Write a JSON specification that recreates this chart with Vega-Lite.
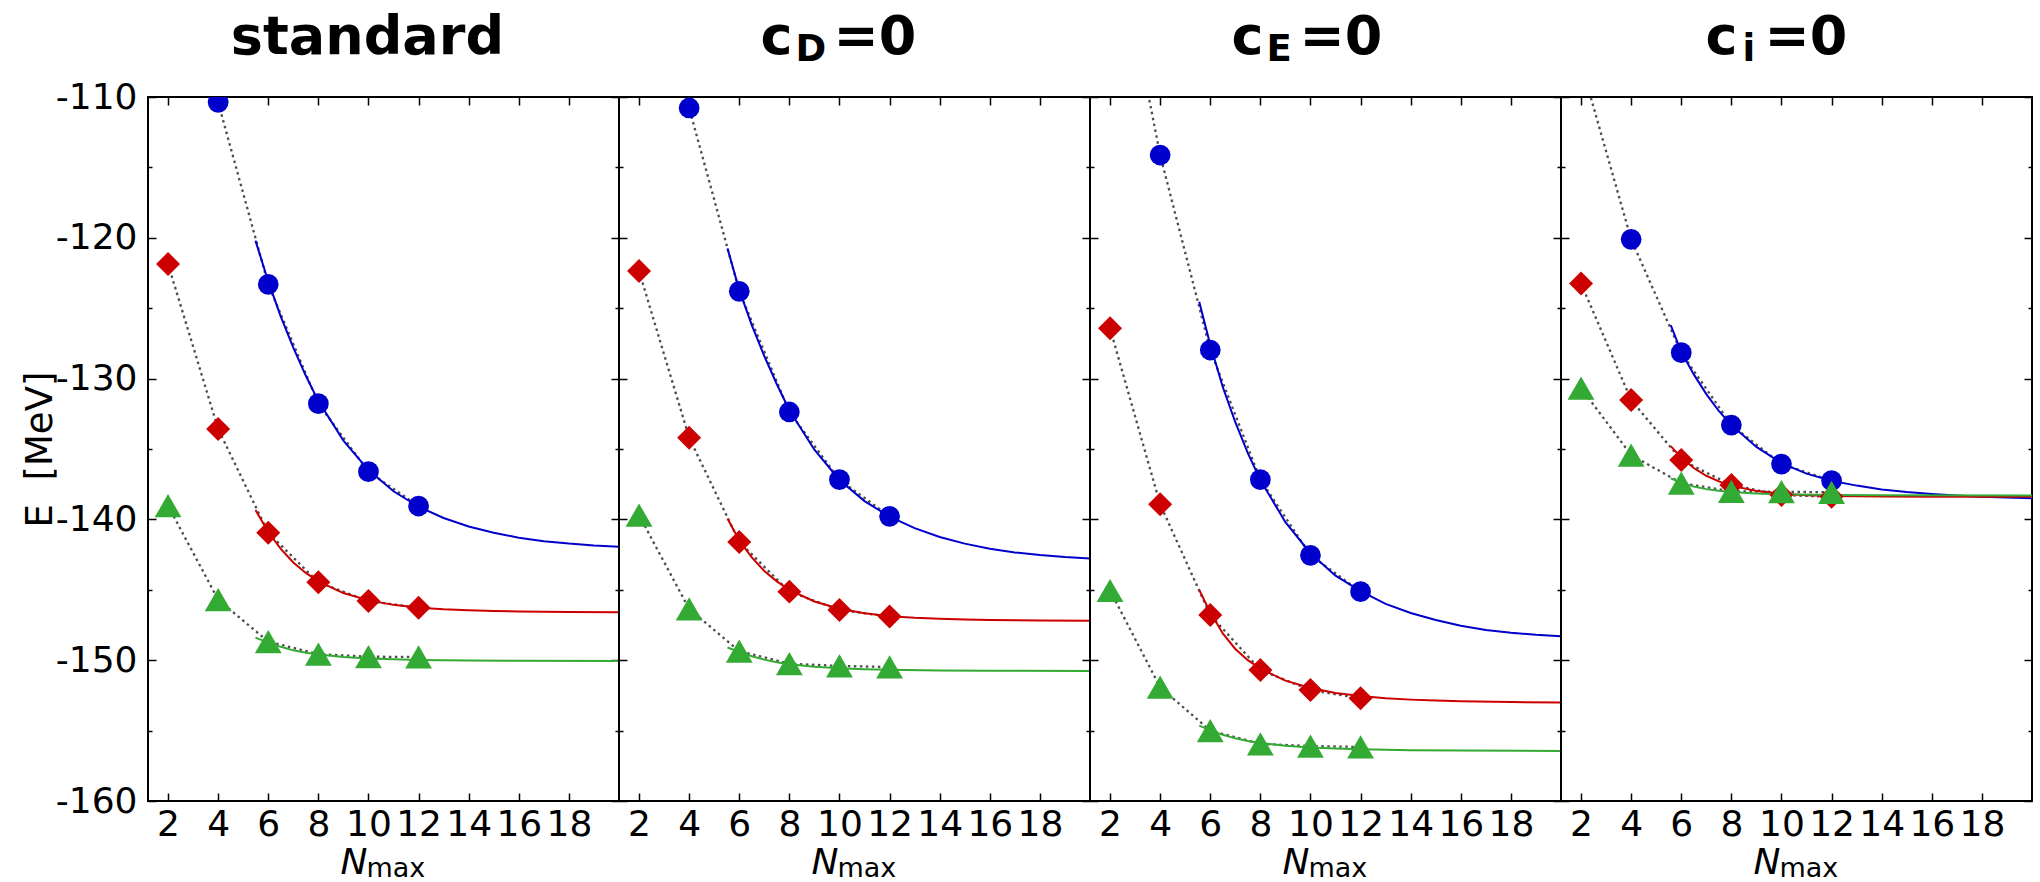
{
  "$schema": "https://vega.github.io/schema/vega-lite/v6.json",
  "background": "white",
  "padding": {"left": 20, "top": 10, "right": 5, "bottom": 5},
  "spacing": 0,
  "bounds": "flush",
  "config": {
    "font": "DejaVu Sans",
    "view": {"stroke": "black", "strokeWidth": 2},
    "axis": {"labelFont": "DejaVu Sans", "labelFontSize": 36, "labelColor": "black", "tickColor": "black", "tickWidth": 1.5, "domain": false, "grid": false, "labelOverlap": false, "labelFlush": false, "titleFont": "DejaVu Sans", "titleFontWeight": "normal", "titleColor": "black"}
  },
  "datasets": {
    "d": [
      {"p":"st","s":"b","k":"pt","n":2,"e":-92},{"p":"st","s":"b","k":"pt","n":4,"e":-110.38},{"p":"st","s":"b","k":"pt","n":6,"e":-123.31},{"p":"st","s":"b","k":"pt","n":8,"e":-131.78},{"p":"st","s":"b","k":"pt","n":10,"e":-136.61},{"p":"st","s":"b","k":"pt","n":12,"e":-139.05},
      {"p":"st","s":"r","k":"pt","n":2,"e":-121.86},{"p":"st","s":"r","k":"pt","n":4,"e":-133.58},{"p":"st","s":"r","k":"pt","n":6,"e":-140.95},{"p":"st","s":"r","k":"pt","n":8,"e":-144.47},{"p":"st","s":"r","k":"pt","n":10,"e":-145.8},{"p":"st","s":"r","k":"pt","n":12,"e":-146.27},
      {"p":"st","s":"g","k":"pt","n":2,"e":-139.03},{"p":"st","s":"g","k":"pt","n":4,"e":-145.7},{"p":"st","s":"g","k":"pt","n":6,"e":-148.68},{"p":"st","s":"g","k":"pt","n":8,"e":-149.57},{"p":"st","s":"g","k":"pt","n":10,"e":-149.75},{"p":"st","s":"g","k":"pt","n":12,"e":-149.77},
      {"p":"st","s":"b","k":"fit","n":5.49,"e":-120.2},{"p":"st","s":"b","k":"fit","n":6,"e":-123.1},{"p":"st","s":"b","k":"fit","n":6.5,"e":-125.6},{"p":"st","s":"b","k":"fit","n":7,"e":-127.8},{"p":"st","s":"b","k":"fit","n":7.5,"e":-129.8},{"p":"st","s":"b","k":"fit","n":8,"e":-131.6},{"p":"st","s":"b","k":"fit","n":9,"e":-134.4},{"p":"st","s":"b","k":"fit","n":10,"e":-136.5},{"p":"st","s":"b","k":"fit","n":11,"e":-138.0},{"p":"st","s":"b","k":"fit","n":12,"e":-139.1},{"p":"st","s":"b","k":"fit","n":13,"e":-139.9},{"p":"st","s":"b","k":"fit","n":14,"e":-140.5},{"p":"st","s":"b","k":"fit","n":15,"e":-140.95},{"p":"st","s":"b","k":"fit","n":16,"e":-141.3},{"p":"st","s":"b","k":"fit","n":17,"e":-141.55},{"p":"st","s":"b","k":"fit","n":18,"e":-141.72},{"p":"st","s":"b","k":"fit","n":19,"e":-141.85},{"p":"st","s":"b","k":"fit","n":20,"e":-141.94},
      {"p":"st","s":"r","k":"fit","n":5.49,"e":-139.33},{"p":"st","s":"r","k":"fit","n":6,"e":-140.9},{"p":"st","s":"r","k":"fit","n":6.5,"e":-142.1},{"p":"st","s":"r","k":"fit","n":7,"e":-143.06},{"p":"st","s":"r","k":"fit","n":7.5,"e":-143.8},{"p":"st","s":"r","k":"fit","n":8,"e":-144.4},{"p":"st","s":"r","k":"fit","n":9,"e":-145.23},{"p":"st","s":"r","k":"fit","n":10,"e":-145.75},{"p":"st","s":"r","k":"fit","n":11,"e":-146.07},{"p":"st","s":"r","k":"fit","n":12,"e":-146.27},{"p":"st","s":"r","k":"fit","n":13,"e":-146.39},{"p":"st","s":"r","k":"fit","n":14,"e":-146.46},{"p":"st","s":"r","k":"fit","n":15,"e":-146.51},{"p":"st","s":"r","k":"fit","n":16,"e":-146.54},{"p":"st","s":"r","k":"fit","n":18,"e":-146.58},{"p":"st","s":"r","k":"fit","n":20,"e":-146.6},
      {"p":"st","s":"g","k":"fit","n":5.49,"e":-148.4},{"p":"st","s":"g","k":"fit","n":6,"e":-148.75},{"p":"st","s":"g","k":"fit","n":6.5,"e":-149.05},{"p":"st","s":"g","k":"fit","n":7,"e":-149.3},{"p":"st","s":"g","k":"fit","n":7.5,"e":-149.47},{"p":"st","s":"g","k":"fit","n":8,"e":-149.6},{"p":"st","s":"g","k":"fit","n":9,"e":-149.78},{"p":"st","s":"g","k":"fit","n":10,"e":-149.88},{"p":"st","s":"g","k":"fit","n":11,"e":-149.94},{"p":"st","s":"g","k":"fit","n":12,"e":-149.98},{"p":"st","s":"g","k":"fit","n":14,"e":-150.02},{"p":"st","s":"g","k":"fit","n":16,"e":-150.04},{"p":"st","s":"g","k":"fit","n":20,"e":-150.05},

      {"p":"cD","s":"b","k":"pt","n":2,"e":-93},{"p":"cD","s":"b","k":"pt","n":4,"e":-110.78},{"p":"cD","s":"b","k":"pt","n":6,"e":-123.8},{"p":"cD","s":"b","k":"pt","n":8,"e":-132.37},{"p":"cD","s":"b","k":"pt","n":10,"e":-137.18},{"p":"cD","s":"b","k":"pt","n":12,"e":-139.78},
      {"p":"cD","s":"r","k":"pt","n":2,"e":-122.36},{"p":"cD","s":"r","k":"pt","n":4,"e":-134.2},{"p":"cD","s":"r","k":"pt","n":6,"e":-141.6},{"p":"cD","s":"r","k":"pt","n":8,"e":-145.13},{"p":"cD","s":"r","k":"pt","n":10,"e":-146.43},{"p":"cD","s":"r","k":"pt","n":12,"e":-146.9},
      {"p":"cD","s":"g","k":"pt","n":2,"e":-139.7},{"p":"cD","s":"g","k":"pt","n":4,"e":-146.36},{"p":"cD","s":"g","k":"pt","n":6,"e":-149.35},{"p":"cD","s":"g","k":"pt","n":8,"e":-150.25},{"p":"cD","s":"g","k":"pt","n":10,"e":-150.41},{"p":"cD","s":"g","k":"pt","n":12,"e":-150.48},
      {"p":"cD","s":"b","k":"fit","n":5.53,"e":-120.75},{"p":"cD","s":"b","k":"fit","n":6,"e":-123.7},{"p":"cD","s":"b","k":"fit","n":6.5,"e":-126.2},{"p":"cD","s":"b","k":"fit","n":7,"e":-128.4},{"p":"cD","s":"b","k":"fit","n":7.5,"e":-130.4},{"p":"cD","s":"b","k":"fit","n":8,"e":-132.25},{"p":"cD","s":"b","k":"fit","n":9,"e":-135.05},{"p":"cD","s":"b","k":"fit","n":10,"e":-137.2},{"p":"cD","s":"b","k":"fit","n":11,"e":-138.7},{"p":"cD","s":"b","k":"fit","n":12,"e":-139.8},{"p":"cD","s":"b","k":"fit","n":13,"e":-140.62},{"p":"cD","s":"b","k":"fit","n":14,"e":-141.25},{"p":"cD","s":"b","k":"fit","n":15,"e":-141.72},{"p":"cD","s":"b","k":"fit","n":16,"e":-142.08},{"p":"cD","s":"b","k":"fit","n":17,"e":-142.35},{"p":"cD","s":"b","k":"fit","n":18,"e":-142.53},{"p":"cD","s":"b","k":"fit","n":19,"e":-142.67},{"p":"cD","s":"b","k":"fit","n":20,"e":-142.77},
      {"p":"cD","s":"r","k":"fit","n":5.53,"e":-139.93},{"p":"cD","s":"r","k":"fit","n":6,"e":-141.5},{"p":"cD","s":"r","k":"fit","n":6.5,"e":-142.7},{"p":"cD","s":"r","k":"fit","n":7,"e":-143.66},{"p":"cD","s":"r","k":"fit","n":7.5,"e":-144.4},{"p":"cD","s":"r","k":"fit","n":8,"e":-145.0},{"p":"cD","s":"r","k":"fit","n":9,"e":-145.83},{"p":"cD","s":"r","k":"fit","n":10,"e":-146.35},{"p":"cD","s":"r","k":"fit","n":11,"e":-146.67},{"p":"cD","s":"r","k":"fit","n":12,"e":-146.87},{"p":"cD","s":"r","k":"fit","n":13,"e":-146.99},{"p":"cD","s":"r","k":"fit","n":14,"e":-147.06},{"p":"cD","s":"r","k":"fit","n":15,"e":-147.11},{"p":"cD","s":"r","k":"fit","n":16,"e":-147.14},{"p":"cD","s":"r","k":"fit","n":18,"e":-147.18},{"p":"cD","s":"r","k":"fit","n":20,"e":-147.2},
      {"p":"cD","s":"g","k":"fit","n":5.53,"e":-149.1},{"p":"cD","s":"g","k":"fit","n":6,"e":-149.42},{"p":"cD","s":"g","k":"fit","n":6.5,"e":-149.72},{"p":"cD","s":"g","k":"fit","n":7,"e":-149.96},{"p":"cD","s":"g","k":"fit","n":7.5,"e":-150.14},{"p":"cD","s":"g","k":"fit","n":8,"e":-150.28},{"p":"cD","s":"g","k":"fit","n":9,"e":-150.46},{"p":"cD","s":"g","k":"fit","n":10,"e":-150.57},{"p":"cD","s":"g","k":"fit","n":11,"e":-150.64},{"p":"cD","s":"g","k":"fit","n":12,"e":-150.68},{"p":"cD","s":"g","k":"fit","n":14,"e":-150.73},{"p":"cD","s":"g","k":"fit","n":16,"e":-150.75},{"p":"cD","s":"g","k":"fit","n":20,"e":-150.77},

      {"p":"cE","s":"b","k":"pt","n":2,"e":-96},{"p":"cE","s":"b","k":"pt","n":4,"e":-114.12},{"p":"cE","s":"b","k":"pt","n":6,"e":-127.97},{"p":"cE","s":"b","k":"pt","n":8,"e":-137.18},{"p":"cE","s":"b","k":"pt","n":10,"e":-142.55},{"p":"cE","s":"b","k":"pt","n":12,"e":-145.13},
      {"p":"cE","s":"r","k":"pt","n":2,"e":-126.43},{"p":"cE","s":"r","k":"pt","n":4,"e":-138.93},{"p":"cE","s":"r","k":"pt","n":6,"e":-146.79},{"p":"cE","s":"r","k":"pt","n":8,"e":-150.7},{"p":"cE","s":"r","k":"pt","n":10,"e":-152.12},{"p":"cE","s":"r","k":"pt","n":12,"e":-152.71},
      {"p":"cE","s":"g","k":"pt","n":2,"e":-145.05},{"p":"cE","s":"g","k":"pt","n":4,"e":-151.92},{"p":"cE","s":"g","k":"pt","n":6,"e":-155.0},{"p":"cE","s":"g","k":"pt","n":8,"e":-155.94},{"p":"cE","s":"g","k":"pt","n":10,"e":-156.1},{"p":"cE","s":"g","k":"pt","n":12,"e":-156.16},
      {"p":"cE","s":"b","k":"fit","n":5.56,"e":-124.54},{"p":"cE","s":"b","k":"fit","n":6,"e":-127.6},{"p":"cE","s":"b","k":"fit","n":6.5,"e":-130.6},{"p":"cE","s":"b","k":"fit","n":7,"e":-133.1},{"p":"cE","s":"b","k":"fit","n":7.5,"e":-135.3},{"p":"cE","s":"b","k":"fit","n":8,"e":-137.2},{"p":"cE","s":"b","k":"fit","n":9,"e":-140.2},{"p":"cE","s":"b","k":"fit","n":10,"e":-142.4},{"p":"cE","s":"b","k":"fit","n":11,"e":-144.0},{"p":"cE","s":"b","k":"fit","n":12,"e":-145.1},{"p":"cE","s":"b","k":"fit","n":13,"e":-146.0},{"p":"cE","s":"b","k":"fit","n":14,"e":-146.65},{"p":"cE","s":"b","k":"fit","n":15,"e":-147.15},{"p":"cE","s":"b","k":"fit","n":16,"e":-147.55},{"p":"cE","s":"b","k":"fit","n":17,"e":-147.85},{"p":"cE","s":"b","k":"fit","n":18,"e":-148.05},{"p":"cE","s":"b","k":"fit","n":19,"e":-148.2},{"p":"cE","s":"b","k":"fit","n":20,"e":-148.3},
      {"p":"cE","s":"r","k":"fit","n":5.56,"e":-145.01},{"p":"cE","s":"r","k":"fit","n":6,"e":-146.6},{"p":"cE","s":"r","k":"fit","n":6.5,"e":-148.1},{"p":"cE","s":"r","k":"fit","n":7,"e":-149.2},{"p":"cE","s":"r","k":"fit","n":7.5,"e":-150.0},{"p":"cE","s":"r","k":"fit","n":8,"e":-150.6},{"p":"cE","s":"r","k":"fit","n":9,"e":-151.45},{"p":"cE","s":"r","k":"fit","n":10,"e":-151.98},{"p":"cE","s":"r","k":"fit","n":11,"e":-152.33},{"p":"cE","s":"r","k":"fit","n":12,"e":-152.55},{"p":"cE","s":"r","k":"fit","n":13,"e":-152.7},{"p":"cE","s":"r","k":"fit","n":14,"e":-152.8},{"p":"cE","s":"r","k":"fit","n":15,"e":-152.87},{"p":"cE","s":"r","k":"fit","n":16,"e":-152.92},{"p":"cE","s":"r","k":"fit","n":18,"e":-152.97},{"p":"cE","s":"r","k":"fit","n":20,"e":-153.0},
      {"p":"cE","s":"g","k":"fit","n":5.56,"e":-154.65},{"p":"cE","s":"g","k":"fit","n":6,"e":-154.98},{"p":"cE","s":"g","k":"fit","n":6.5,"e":-155.3},{"p":"cE","s":"g","k":"fit","n":7,"e":-155.55},{"p":"cE","s":"g","k":"fit","n":7.5,"e":-155.74},{"p":"cE","s":"g","k":"fit","n":8,"e":-155.88},{"p":"cE","s":"g","k":"fit","n":9,"e":-156.07},{"p":"cE","s":"g","k":"fit","n":10,"e":-156.2},{"p":"cE","s":"g","k":"fit","n":11,"e":-156.28},{"p":"cE","s":"g","k":"fit","n":12,"e":-156.33},{"p":"cE","s":"g","k":"fit","n":14,"e":-156.39},{"p":"cE","s":"g","k":"fit","n":16,"e":-156.42},{"p":"cE","s":"g","k":"fit","n":20,"e":-156.45},

      {"p":"ci","s":"b","k":"pt","n":2,"e":-107.6},{"p":"ci","s":"b","k":"pt","n":4,"e":-120.11},{"p":"ci","s":"b","k":"pt","n":6,"e":-128.16},{"p":"ci","s":"b","k":"pt","n":8,"e":-133.3},{"p":"ci","s":"b","k":"pt","n":10,"e":-136.07},{"p":"ci","s":"b","k":"pt","n":12,"e":-137.25},
      {"p":"ci","s":"r","k":"pt","n":2,"e":-123.24},{"p":"ci","s":"r","k":"pt","n":4,"e":-131.52},{"p":"ci","s":"r","k":"pt","n":6,"e":-135.78},{"p":"ci","s":"r","k":"pt","n":8,"e":-137.56},{"p":"ci","s":"r","k":"pt","n":10,"e":-138.27},{"p":"ci","s":"r","k":"pt","n":12,"e":-138.39},
      {"p":"ci","s":"g","k":"pt","n":2,"e":-130.67},{"p":"ci","s":"g","k":"pt","n":4,"e":-135.43},{"p":"ci","s":"g","k":"pt","n":6,"e":-137.42},{"p":"ci","s":"g","k":"pt","n":8,"e":-138.01},{"p":"ci","s":"g","k":"pt","n":10,"e":-138.03},{"p":"ci","s":"g","k":"pt","n":12,"e":-138.08},
      {"p":"ci","s":"b","k":"fit","n":5.58,"e":-126.2},{"p":"ci","s":"b","k":"fit","n":6,"e":-128.1},{"p":"ci","s":"b","k":"fit","n":6.5,"e":-129.7},{"p":"ci","s":"b","k":"fit","n":7,"e":-131.1},{"p":"ci","s":"b","k":"fit","n":7.5,"e":-132.3},{"p":"ci","s":"b","k":"fit","n":8,"e":-133.3},{"p":"ci","s":"b","k":"fit","n":9,"e":-134.85},{"p":"ci","s":"b","k":"fit","n":10,"e":-136.0},{"p":"ci","s":"b","k":"fit","n":11,"e":-136.75},{"p":"ci","s":"b","k":"fit","n":12,"e":-137.25},{"p":"ci","s":"b","k":"fit","n":13,"e":-137.6},{"p":"ci","s":"b","k":"fit","n":14,"e":-137.87},{"p":"ci","s":"b","k":"fit","n":15,"e":-138.06},{"p":"ci","s":"b","k":"fit","n":16,"e":-138.2},{"p":"ci","s":"b","k":"fit","n":17,"e":-138.31},{"p":"ci","s":"b","k":"fit","n":18,"e":-138.39},{"p":"ci","s":"b","k":"fit","n":19,"e":-138.45},{"p":"ci","s":"b","k":"fit","n":20,"e":-138.5},
      {"p":"ci","s":"r","k":"fit","n":5.58,"e":-134.8},{"p":"ci","s":"r","k":"fit","n":6,"e":-135.6},{"p":"ci","s":"r","k":"fit","n":6.5,"e":-136.35},{"p":"ci","s":"r","k":"fit","n":7,"e":-136.9},{"p":"ci","s":"r","k":"fit","n":7.5,"e":-137.3},{"p":"ci","s":"r","k":"fit","n":8,"e":-137.6},{"p":"ci","s":"r","k":"fit","n":9,"e":-137.98},{"p":"ci","s":"r","k":"fit","n":10,"e":-138.18},{"p":"ci","s":"r","k":"fit","n":11,"e":-138.28},{"p":"ci","s":"r","k":"fit","n":12,"e":-138.33},{"p":"ci","s":"r","k":"fit","n":14,"e":-138.37},{"p":"ci","s":"r","k":"fit","n":16,"e":-138.39},{"p":"ci","s":"r","k":"fit","n":20,"e":-138.4},
      {"p":"ci","s":"g","k":"fit","n":5.58,"e":-137.09},{"p":"ci","s":"g","k":"fit","n":6,"e":-137.4},{"p":"ci","s":"g","k":"fit","n":6.5,"e":-137.67},{"p":"ci","s":"g","k":"fit","n":7,"e":-137.85},{"p":"ci","s":"g","k":"fit","n":7.5,"e":-137.97},{"p":"ci","s":"g","k":"fit","n":8,"e":-138.06},{"p":"ci","s":"g","k":"fit","n":9,"e":-138.16},{"p":"ci","s":"g","k":"fit","n":10,"e":-138.21},{"p":"ci","s":"g","k":"fit","n":12,"e":-138.26},{"p":"ci","s":"g","k":"fit","n":14,"e":-138.28},{"p":"ci","s":"g","k":"fit","n":20,"e":-138.3},

      {"p":"st","k":"ti","part":"m","t":"standard"},
      {"p":"cD","k":"ti","part":"c","t":"c"},{"p":"cD","k":"ti","part":"sub","t":"D"},{"p":"cD","k":"ti","part":"eq","t":"=0"},
      {"p":"cE","k":"ti","part":"c","t":"c"},{"p":"cE","k":"ti","part":"sub","t":"E"},{"p":"cE","k":"ti","part":"eq","t":"=0"},
      {"p":"ci","k":"ti","part":"c","t":"c"},{"p":"ci","k":"ti","part":"sub","t":"i"},{"p":"ci","k":"ti","part":"eq","t":"=0"},
      {"p":"all","k":"xt","part":"N","t":"N"},{"p":"all","k":"xt","part":"max","t":"max"}
    ]
  },
  "data": {"name": "d"},
  "hconcat": [
    {
      "width": 471, "height": 704,
      "transform": [{"filter": "datum.p === 'st' || datum.p === 'all'"}],
      "resolve": {"axis": {"x": "independent", "y": "independent"}},
      "layer": [
        {
          "transform": [{"filter": "datum.k === 'pt'"}],
          "mark": {"type": "line", "clip": true, "color": "#4d4d4d", "strokeWidth": 2.3, "strokeDash": [2.5, 3.5]},
          "encoding": {
            "x": {"field": "n", "type": "quantitative", "scale": {"domain": [1.2, 20], "nice": false, "zero": false},
                  "axis": {"orient": "bottom", "values": [2,4,6,8,10,12,14,16,18], "tickSize": -8, "labelPadding": 14, "title": null}},
            "y": {"field": "e", "type": "quantitative", "scale": {"domain": [-160, -110], "nice": false, "zero": false},
                  "axis": {"orient": "left", "values": [-160,-155,-150,-145,-140,-135,-130,-125,-120,-115,-110], "tickSize": {"condition": {"test": "datum.value % 10 === 0", "value": -8}, "value": -4}, "labelPadding": 19, "labelExpr": "datum.value % 10 === 0 ? '' + datum.value : ''", "title": "E\u00a0\u00a0[MeV]", "titleFontSize": 37, "titlePadding": -4}},
            "detail": {"field": "s"}
          }
        },
        {
          "transform": [{"filter": "datum.k === 'fit'"}],
          "mark": {"type": "line", "clip": true, "strokeWidth": 2},
          "encoding": {
            "x": {"field": "n", "type": "quantitative", "axis": null},
            "y": {"field": "e", "type": "quantitative", "axis": null},
            "color": {"field": "s", "type": "nominal", "scale": {"domain": ["b","r","g"], "range": ["#0000cc","#cc0000","#33aa33"]}, "legend": null}
          }
        },
        {
          "transform": [{"filter": "datum.k === 'pt'"}],
          "mark": {"type": "point", "filled": true, "opacity": 1, "clip": true},
          "encoding": {
            "x": {"field": "n", "type": "quantitative", "axis": null},
            "y": {"field": "e", "type": "quantitative", "axis": null},
            "color": {"field": "s", "type": "nominal", "scale": {"domain": ["b","r","g"], "range": ["#0000cc","#cc0000","#33aa33"]}, "legend": null},
            "shape": {"field": "s", "type": "nominal", "scale": {"domain": ["b","r","g"], "range": ["circle","diamond","triangle-up"]}, "legend": null},
            "size": {"field": "s", "type": "nominal", "scale": {"domain": ["b","r","g"], "range": [430, 720, 650]}, "legend": null}
          }
        },
        {
          "transform": [{"filter": "datum.k === 'pt'"}],
          "mark": {"type": "point", "opacity": 0, "clip": true},
          "encoding": {
            "x": {"field": "n", "type": "quantitative", "axis": {"orient": "top", "values": [2,4,6,8,10,12,14,16,18], "tickSize": -8, "labels": false, "title": null}},
            "y": {"field": "e", "type": "quantitative", "axis": {"orient": "right", "values": [-160,-155,-150,-145,-140,-135,-130,-125,-120,-115,-110], "tickSize": {"condition": {"test": "datum.value % 10 === 0", "value": -8}, "value": -4}, "labels": false, "title": null}}
          }
        },
        {
          "transform": [{"filter": "datum.k === 'xt' && datum.part === 'N'"}],
          "mark": {"type": "text", "font": "DejaVu Sans", "fontStyle": "italic", "fontSize": 36, "align": "right", "baseline": "alphabetic", "dx": -16, "color": "black"},
          "encoding": {"x": {"datum": 10.6, "type": "quantitative", "axis": null}, "y": {"datum": -165.2, "type": "quantitative", "axis": null}, "text": {"field": "t"}}
        },
        {
          "transform": [{"filter": "datum.k === 'xt' && datum.part === 'max'"}],
          "mark": {"type": "text", "font": "DejaVu Sans", "fontSize": 27, "align": "left", "baseline": "alphabetic", "dx": -17, "dy": 3, "color": "black"},
          "encoding": {"x": {"datum": 10.6, "type": "quantitative", "axis": null}, "y": {"datum": -165.2, "type": "quantitative", "axis": null}, "text": {"field": "t"}}
        },
        {
          "transform": [{"filter": "datum.k === 'ti'"}],
          "mark": {"type": "text", "font": "DejaVu Sans", "fontWeight": "bold", "fontSize": 54, "align": "center", "baseline": "alphabetic", "dx": -1, "color": "black"},
          "encoding": {
            "x": {"datum": 10, "type": "quantitative", "axis": null},
            "y": {"datum": -106.95, "type": "quantitative", "axis": null},
            "text": {"field": "t"}
          }
        }
      ]
    },
    {
      "width": 471, "height": 704,
      "transform": [{"filter": "datum.p === 'cD' || datum.p === 'all'"}],
      "resolve": {"axis": {"x": "independent", "y": "independent"}},
      "layer": [
        {
          "transform": [{"filter": "datum.k === 'pt'"}],
          "mark": {"type": "line", "clip": true, "color": "#4d4d4d", "strokeWidth": 2.3, "strokeDash": [2.5, 3.5]},
          "encoding": {
            "x": {"field": "n", "type": "quantitative", "scale": {"domain": [1.2, 20], "nice": false, "zero": false},
                  "axis": {"orient": "bottom", "values": [2,4,6,8,10,12,14,16,18], "tickSize": -8, "labelPadding": 14, "title": null}},
            "y": {"field": "e", "type": "quantitative", "scale": {"domain": [-160, -110], "nice": false, "zero": false},
                  "axis": {"orient": "left", "values": [-160,-155,-150,-145,-140,-135,-130,-125,-120,-115,-110], "tickSize": {"condition": {"test": "datum.value % 10 === 0", "value": -8}, "value": -4}, "labels": false, "title": null}},
            "detail": {"field": "s"}
          }
        },
        {
          "transform": [{"filter": "datum.k === 'fit'"}],
          "mark": {"type": "line", "clip": true, "strokeWidth": 2},
          "encoding": {
            "x": {"field": "n", "type": "quantitative", "axis": null},
            "y": {"field": "e", "type": "quantitative", "axis": null},
            "color": {"field": "s", "type": "nominal", "scale": {"domain": ["b","r","g"], "range": ["#0000cc","#cc0000","#33aa33"]}, "legend": null}
          }
        },
        {
          "transform": [{"filter": "datum.k === 'pt'"}],
          "mark": {"type": "point", "filled": true, "opacity": 1, "clip": true},
          "encoding": {
            "x": {"field": "n", "type": "quantitative", "axis": null},
            "y": {"field": "e", "type": "quantitative", "axis": null},
            "color": {"field": "s", "type": "nominal", "scale": {"domain": ["b","r","g"], "range": ["#0000cc","#cc0000","#33aa33"]}, "legend": null},
            "shape": {"field": "s", "type": "nominal", "scale": {"domain": ["b","r","g"], "range": ["circle","diamond","triangle-up"]}, "legend": null},
            "size": {"field": "s", "type": "nominal", "scale": {"domain": ["b","r","g"], "range": [430, 720, 650]}, "legend": null}
          }
        },
        {
          "transform": [{"filter": "datum.k === 'pt'"}],
          "mark": {"type": "point", "opacity": 0, "clip": true},
          "encoding": {
            "x": {"field": "n", "type": "quantitative", "axis": {"orient": "top", "values": [2,4,6,8,10,12,14,16,18], "tickSize": -8, "labels": false, "title": null}},
            "y": {"field": "e", "type": "quantitative", "axis": {"orient": "right", "values": [-160,-155,-150,-145,-140,-135,-130,-125,-120,-115,-110], "tickSize": {"condition": {"test": "datum.value % 10 === 0", "value": -8}, "value": -4}, "labels": false, "title": null}}
          }
        },
        {
          "transform": [{"filter": "datum.k === 'xt' && datum.part === 'N'"}],
          "mark": {"type": "text", "font": "DejaVu Sans", "fontStyle": "italic", "fontSize": 36, "align": "right", "baseline": "alphabetic", "dx": -16, "color": "black"},
          "encoding": {"x": {"datum": 10.6, "type": "quantitative", "axis": null}, "y": {"datum": -165.2, "type": "quantitative", "axis": null}, "text": {"field": "t"}}
        },
        {
          "transform": [{"filter": "datum.k === 'xt' && datum.part === 'max'"}],
          "mark": {"type": "text", "font": "DejaVu Sans", "fontSize": 27, "align": "left", "baseline": "alphabetic", "dx": -17, "dy": 3, "color": "black"},
          "encoding": {"x": {"datum": 10.6, "type": "quantitative", "axis": null}, "y": {"datum": -165.2, "type": "quantitative", "axis": null}, "text": {"field": "t"}}
        },
        {
          "transform": [{"filter": "datum.k === 'ti' && datum.part === 'c'"}],
          "mark": {"type": "text", "font": "DejaVu Sans", "fontWeight": "bold", "fontSize": 54, "align": "right", "baseline": "alphabetic", "dx": -47, "color": "black"},
          "encoding": {"x": {"datum": 10, "type": "quantitative", "axis": null}, "y": {"datum": -106.95, "type": "quantitative", "axis": null}, "text": {"field": "t"}}
        },
        {
          "transform": [{"filter": "datum.k === 'ti' && datum.part === 'sub'"}],
          "mark": {"type": "text", "font": "DejaVu Sans", "fontWeight": "bold", "fontSize": 37, "align": "left", "baseline": "alphabetic", "dx": -44, "dy": 7, "color": "black"},
          "encoding": {"x": {"datum": 10, "type": "quantitative", "axis": null}, "y": {"datum": -106.95, "type": "quantitative", "axis": null}, "text": {"field": "t"}}
        },
        {
          "transform": [{"filter": "datum.k === 'ti' && datum.part === 'eq'"}],
          "mark": {"type": "text", "font": "DejaVu Sans", "fontWeight": "bold", "fontSize": 54, "align": "left", "baseline": "alphabetic", "dx": -6, "color": "black"},
          "encoding": {"x": {"datum": 10, "type": "quantitative", "axis": null}, "y": {"datum": -106.95, "type": "quantitative", "axis": null}, "text": {"field": "t"}}
        }
      ]
    },
    {
      "width": 471, "height": 704,
      "transform": [{"filter": "datum.p === 'cE' || datum.p === 'all'"}],
      "resolve": {"axis": {"x": "independent", "y": "independent"}},
      "layer": [
        {
          "transform": [{"filter": "datum.k === 'pt'"}],
          "mark": {"type": "line", "clip": true, "color": "#4d4d4d", "strokeWidth": 2.3, "strokeDash": [2.5, 3.5]},
          "encoding": {
            "x": {"field": "n", "type": "quantitative", "scale": {"domain": [1.2, 20], "nice": false, "zero": false},
                  "axis": {"orient": "bottom", "values": [2,4,6,8,10,12,14,16,18], "tickSize": -8, "labelPadding": 14, "title": null}},
            "y": {"field": "e", "type": "quantitative", "scale": {"domain": [-160, -110], "nice": false, "zero": false},
                  "axis": {"orient": "left", "values": [-160,-155,-150,-145,-140,-135,-130,-125,-120,-115,-110], "tickSize": {"condition": {"test": "datum.value % 10 === 0", "value": -8}, "value": -4}, "labels": false, "title": null}},
            "detail": {"field": "s"}
          }
        },
        {
          "transform": [{"filter": "datum.k === 'fit'"}],
          "mark": {"type": "line", "clip": true, "strokeWidth": 2},
          "encoding": {
            "x": {"field": "n", "type": "quantitative", "axis": null},
            "y": {"field": "e", "type": "quantitative", "axis": null},
            "color": {"field": "s", "type": "nominal", "scale": {"domain": ["b","r","g"], "range": ["#0000cc","#cc0000","#33aa33"]}, "legend": null}
          }
        },
        {
          "transform": [{"filter": "datum.k === 'pt'"}],
          "mark": {"type": "point", "filled": true, "opacity": 1, "clip": true},
          "encoding": {
            "x": {"field": "n", "type": "quantitative", "axis": null},
            "y": {"field": "e", "type": "quantitative", "axis": null},
            "color": {"field": "s", "type": "nominal", "scale": {"domain": ["b","r","g"], "range": ["#0000cc","#cc0000","#33aa33"]}, "legend": null},
            "shape": {"field": "s", "type": "nominal", "scale": {"domain": ["b","r","g"], "range": ["circle","diamond","triangle-up"]}, "legend": null},
            "size": {"field": "s", "type": "nominal", "scale": {"domain": ["b","r","g"], "range": [430, 720, 650]}, "legend": null}
          }
        },
        {
          "transform": [{"filter": "datum.k === 'pt'"}],
          "mark": {"type": "point", "opacity": 0, "clip": true},
          "encoding": {
            "x": {"field": "n", "type": "quantitative", "axis": {"orient": "top", "values": [2,4,6,8,10,12,14,16,18], "tickSize": -8, "labels": false, "title": null}},
            "y": {"field": "e", "type": "quantitative", "axis": {"orient": "right", "values": [-160,-155,-150,-145,-140,-135,-130,-125,-120,-115,-110], "tickSize": {"condition": {"test": "datum.value % 10 === 0", "value": -8}, "value": -4}, "labels": false, "title": null}}
          }
        },
        {
          "transform": [{"filter": "datum.k === 'xt' && datum.part === 'N'"}],
          "mark": {"type": "text", "font": "DejaVu Sans", "fontStyle": "italic", "fontSize": 36, "align": "right", "baseline": "alphabetic", "dx": -16, "color": "black"},
          "encoding": {"x": {"datum": 10.6, "type": "quantitative", "axis": null}, "y": {"datum": -165.2, "type": "quantitative", "axis": null}, "text": {"field": "t"}}
        },
        {
          "transform": [{"filter": "datum.k === 'xt' && datum.part === 'max'"}],
          "mark": {"type": "text", "font": "DejaVu Sans", "fontSize": 27, "align": "left", "baseline": "alphabetic", "dx": -17, "dy": 3, "color": "black"},
          "encoding": {"x": {"datum": 10.6, "type": "quantitative", "axis": null}, "y": {"datum": -165.2, "type": "quantitative", "axis": null}, "text": {"field": "t"}}
        },
        {
          "transform": [{"filter": "datum.k === 'ti' && datum.part === 'c'"}],
          "mark": {"type": "text", "font": "DejaVu Sans", "fontWeight": "bold", "fontSize": 54, "align": "right", "baseline": "alphabetic", "dx": -47, "color": "black"},
          "encoding": {"x": {"datum": 10, "type": "quantitative", "axis": null}, "y": {"datum": -106.95, "type": "quantitative", "axis": null}, "text": {"field": "t"}}
        },
        {
          "transform": [{"filter": "datum.k === 'ti' && datum.part === 'sub'"}],
          "mark": {"type": "text", "font": "DejaVu Sans", "fontWeight": "bold", "fontSize": 37, "align": "left", "baseline": "alphabetic", "dx": -44, "dy": 7, "color": "black"},
          "encoding": {"x": {"datum": 10, "type": "quantitative", "axis": null}, "y": {"datum": -106.95, "type": "quantitative", "axis": null}, "text": {"field": "t"}}
        },
        {
          "transform": [{"filter": "datum.k === 'ti' && datum.part === 'eq'"}],
          "mark": {"type": "text", "font": "DejaVu Sans", "fontWeight": "bold", "fontSize": 54, "align": "left", "baseline": "alphabetic", "dx": -11, "color": "black"},
          "encoding": {"x": {"datum": 10, "type": "quantitative", "axis": null}, "y": {"datum": -106.95, "type": "quantitative", "axis": null}, "text": {"field": "t"}}
        }
      ]
    },
    {
      "width": 471, "height": 704,
      "transform": [{"filter": "datum.p === 'ci' || datum.p === 'all'"}],
      "resolve": {"axis": {"x": "independent", "y": "independent"}},
      "layer": [
        {
          "transform": [{"filter": "datum.k === 'pt'"}],
          "mark": {"type": "line", "clip": true, "color": "#4d4d4d", "strokeWidth": 2.3, "strokeDash": [2.5, 3.5]},
          "encoding": {
            "x": {"field": "n", "type": "quantitative", "scale": {"domain": [1.2, 20], "nice": false, "zero": false},
                  "axis": {"orient": "bottom", "values": [2,4,6,8,10,12,14,16,18], "tickSize": -8, "labelPadding": 14, "title": null}},
            "y": {"field": "e", "type": "quantitative", "scale": {"domain": [-160, -110], "nice": false, "zero": false},
                  "axis": {"orient": "left", "values": [-160,-155,-150,-145,-140,-135,-130,-125,-120,-115,-110], "tickSize": {"condition": {"test": "datum.value % 10 === 0", "value": -8}, "value": -4}, "labels": false, "title": null}},
            "detail": {"field": "s"}
          }
        },
        {
          "transform": [{"filter": "datum.k === 'fit'"}],
          "mark": {"type": "line", "clip": true, "strokeWidth": 2},
          "encoding": {
            "x": {"field": "n", "type": "quantitative", "axis": null},
            "y": {"field": "e", "type": "quantitative", "axis": null},
            "color": {"field": "s", "type": "nominal", "scale": {"domain": ["b","r","g"], "range": ["#0000cc","#cc0000","#33aa33"]}, "legend": null}
          }
        },
        {
          "transform": [{"filter": "datum.k === 'pt'"}],
          "mark": {"type": "point", "filled": true, "opacity": 1, "clip": true},
          "encoding": {
            "x": {"field": "n", "type": "quantitative", "axis": null},
            "y": {"field": "e", "type": "quantitative", "axis": null},
            "color": {"field": "s", "type": "nominal", "scale": {"domain": ["b","r","g"], "range": ["#0000cc","#cc0000","#33aa33"]}, "legend": null},
            "shape": {"field": "s", "type": "nominal", "scale": {"domain": ["b","r","g"], "range": ["circle","diamond","triangle-up"]}, "legend": null},
            "size": {"field": "s", "type": "nominal", "scale": {"domain": ["b","r","g"], "range": [430, 720, 650]}, "legend": null}
          }
        },
        {
          "transform": [{"filter": "datum.k === 'pt'"}],
          "mark": {"type": "point", "opacity": 0, "clip": true},
          "encoding": {
            "x": {"field": "n", "type": "quantitative", "axis": {"orient": "top", "values": [2,4,6,8,10,12,14,16,18], "tickSize": -8, "labels": false, "title": null}},
            "y": {"field": "e", "type": "quantitative", "axis": {"orient": "right", "values": [-160,-155,-150,-145,-140,-135,-130,-125,-120,-115,-110], "tickSize": {"condition": {"test": "datum.value % 10 === 0", "value": -8}, "value": -4}, "labels": false, "title": null}}
          }
        },
        {
          "transform": [{"filter": "datum.k === 'xt' && datum.part === 'N'"}],
          "mark": {"type": "text", "font": "DejaVu Sans", "fontStyle": "italic", "fontSize": 36, "align": "right", "baseline": "alphabetic", "dx": -16, "color": "black"},
          "encoding": {"x": {"datum": 10.6, "type": "quantitative", "axis": null}, "y": {"datum": -165.2, "type": "quantitative", "axis": null}, "text": {"field": "t"}}
        },
        {
          "transform": [{"filter": "datum.k === 'xt' && datum.part === 'max'"}],
          "mark": {"type": "text", "font": "DejaVu Sans", "fontSize": 27, "align": "left", "baseline": "alphabetic", "dx": -17, "dy": 3, "color": "black"},
          "encoding": {"x": {"datum": 10.6, "type": "quantitative", "axis": null}, "y": {"datum": -165.2, "type": "quantitative", "axis": null}, "text": {"field": "t"}}
        },
        {
          "transform": [{"filter": "datum.k === 'ti' && datum.part === 'c'"}],
          "mark": {"type": "text", "font": "DejaVu Sans", "fontWeight": "bold", "fontSize": 54, "align": "right", "baseline": "alphabetic", "dx": -44, "color": "black"},
          "encoding": {"x": {"datum": 10, "type": "quantitative", "axis": null}, "y": {"datum": -106.95, "type": "quantitative", "axis": null}, "text": {"field": "t"}}
        },
        {
          "transform": [{"filter": "datum.k === 'ti' && datum.part === 'sub'"}],
          "mark": {"type": "text", "font": "DejaVu Sans", "fontWeight": "bold", "fontSize": 37, "align": "left", "baseline": "alphabetic", "dx": -39, "dy": 7, "color": "black"},
          "encoding": {"x": {"datum": 10, "type": "quantitative", "axis": null}, "y": {"datum": -106.95, "type": "quantitative", "axis": null}, "text": {"field": "t"}}
        },
        {
          "transform": [{"filter": "datum.k === 'ti' && datum.part === 'eq'"}],
          "mark": {"type": "text", "font": "DejaVu Sans", "fontWeight": "bold", "fontSize": 54, "align": "left", "baseline": "alphabetic", "dx": -17, "color": "black"},
          "encoding": {"x": {"datum": 10, "type": "quantitative", "axis": null}, "y": {"datum": -106.95, "type": "quantitative", "axis": null}, "text": {"field": "t"}}
        }
      ]
    }
  ]
}
